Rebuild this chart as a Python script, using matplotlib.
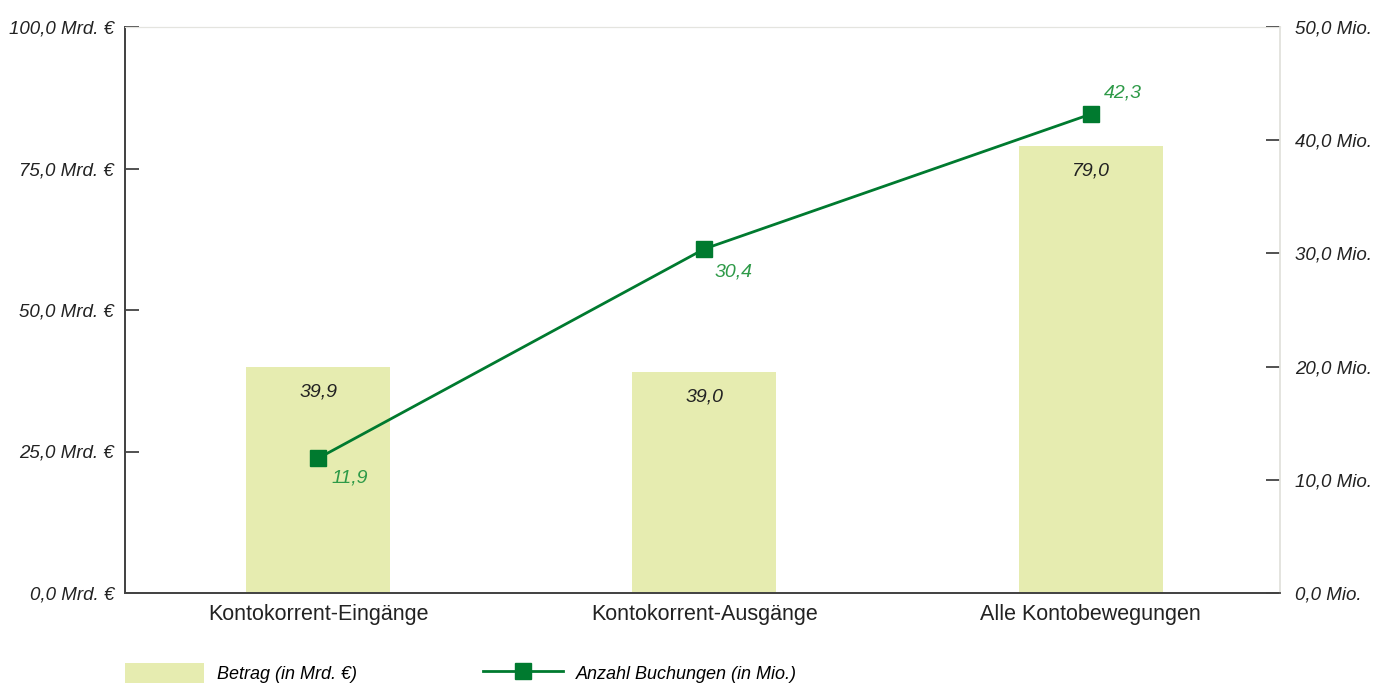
import numpy as np
import matplotlib.pyplot as plt

categories = ['Kontokorrent-Eingänge', 'Kontokorrent-Ausgänge', 'Alle Kontobewegungen']
betrag = [39.9, 39.0, 79.0]          # Mrd. €
buchungen = [11.9, 30.4, 42.3]       # Mio.
left_ticks = [0, 25, 50, 75, 100]
right_ticks = [0, 10, 20, 30, 40, 50]

bar_color = '#e6ecb0'
line_color = '#007a2f'
label_green = '#2e9a48'
text_color = '#222222'


def de(v):
    return f'{v:.1f}'.replace('.', ',')


plt.rcParams['font.family'] = ['Liberation Sans', 'DejaVu Sans']

fig = plt.figure(figsize=(13.73, 6.84), dpi=100)
ax = fig.add_axes([125 / 1373, 1 - 593 / 684, 1155 / 1373, 566 / 684])
ax2 = ax.twinx()

x = np.arange(len(categories))
bars = ax.bar(x, betrag, width=0.373, color=bar_color, zorder=1)
for xi, v in zip(x, betrag):
    ax.annotate(de(v), (xi, v), xytext=(0, -18), textcoords='offset points',
                ha='center', va='center', fontsize=14, style='italic', color=text_color)

line, = ax2.plot(x, buchungen, color=line_color, lw=2, marker='s', markersize=11, zorder=3)
offsets = [(23, -14), (21, -17), (23, 15)]
for xi, v, off in zip(x, buchungen, offsets):
    ax2.annotate(de(v), (xi, v), xytext=off, textcoords='offset points',
                 ha='center', va='center', fontsize=14, style='italic', color=label_green)

ax.set_xlim(-0.5, 2.49)
ax.set_ylim(0, 100)
ax2.set_ylim(0, 50)

ax.set_xticks(x)
ax.set_xticklabels(categories, fontsize=15.5, color=text_color)
ax.tick_params(axis='x', length=0, pad=8)

ax.set_yticks(left_ticks)
ax.set_yticklabels([de(t) + ' Mrd. €' for t in left_ticks],
                   fontsize=13.5, style='italic', color=text_color)
ax.tick_params(axis='y', direction='in', length=10, width=1.2, color='#333333', pad=8)

ax2.set_yticks(right_ticks)
ax2.set_yticklabels([de(t) + ' Mio.' for t in right_ticks],
                    fontsize=13.5, style='italic', color=text_color)
ax2.tick_params(axis='y', direction='in', length=10, width=1.2, color='#333333', pad=11)

for a in (ax, ax2):
    a.spines['left'].set_color('#444444')
    a.spines['left'].set_linewidth(1.3)
    a.spines['bottom'].set_color('#444444')
    a.spines['bottom'].set_linewidth(1.3)
    a.spines['top'].set_color('#e4e4df')
    a.spines['right'].set_color('#e4e4df')
    a.spines['right'].set_linewidth(1.3)

ax.legend([bars, line], ['Betrag (in Mrd. €)', 'Anzahl Buchungen (in Mio.)'],
          loc='upper left', bbox_to_anchor=(0.0, -0.124), ncol=2, frameon=False,
          handlelength=4.4, handleheight=1.3, handletextpad=0.7, columnspacing=7.0,
          borderaxespad=0, borderpad=0, prop={'size': 13, 'style': 'italic'})

fig.savefig('out.png', dpi=100)
